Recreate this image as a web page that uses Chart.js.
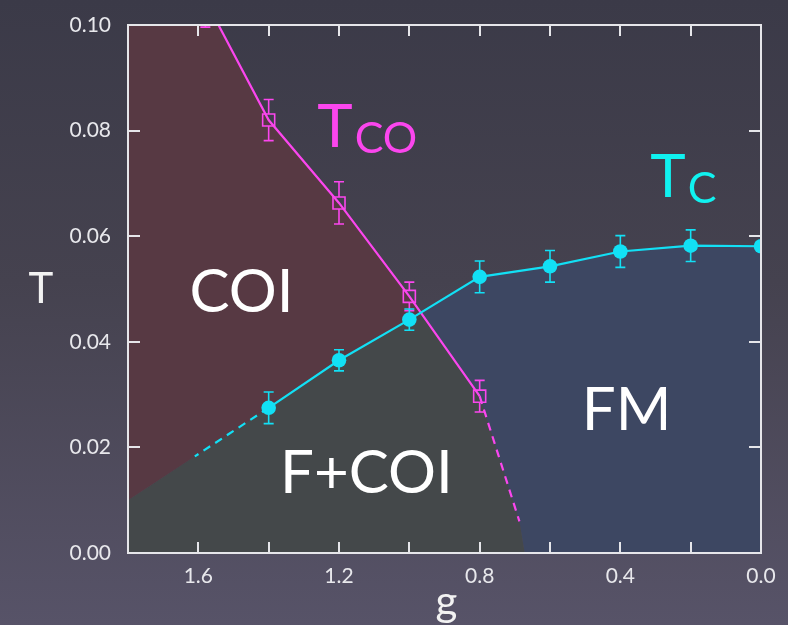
<!DOCTYPE html>
<html>
<head>
<meta charset="utf-8">
<script src="https://cdn.jsdelivr.net/npm/chart.js@4.4.1/dist/chart.umd.min.js"></script>
<style>
  html, body { margin: 0; padding: 0; }
  body {
    width: 788px; height: 625px; overflow: hidden;
    background: linear-gradient(to bottom, #3b3a48 0%, #45424f 45%, #575368 100%);
  }
  #c { display: block; }
</style>
</head>
<body>
<canvas id="c" width="788" height="625"></canvas>
<script>
// Curie temperature T_C versus g (filled circles)
const tcG      = [1.4, 1.2, 1.0, 0.8, 0.6, 0.4, 0.2, 0.0];
const tcT      = [0.0275, 0.0365, 0.0442, 0.0523, 0.0543, 0.0571, 0.0582, 0.0581];
const tcErr    = [0.0030, 0.0020, 0.0020, 0.0030, 0.0030, 0.0030, 0.0030, 0.0];

// Charge-ordering temperature T_CO versus g (open squares)
const tcoG     = [1.58, 1.4, 1.2, 1.0, 0.8];
const tcoT     = [0.1047, 0.0820, 0.0663, 0.0486, 0.0297];
const tcoErr   = [0.0051, 0.0039, 0.0040, 0.0027, 0.0030];

// Extrapolated (dashed) continuations of both boundaries
const tcExtG   = [1.4, 1.61];
const tcExtT   = [0.0275, 0.0183];
const tcoExtG  = [0.8, 0.687];
const tcoExtT  = [0.0297, 0.0060];

// Phase regions, as closed outlines in (g, T)
const coiRegion  = [[1.8, 0.1], [1.543, 0.1], [1.4, 0.082], [1.2, 0.0663], [1.0, 0.0486], [0.967, 0.0455],
                    [1.0, 0.0442], [1.2, 0.0365], [1.4, 0.0275], [1.8, 0.0100]];
const fcoiRegion = [[1.8, 0.0100], [1.4, 0.0275], [1.2, 0.0365], [1.0, 0.0442], [0.967, 0.0455],
                    [0.8, 0.0297], [0.687, 0.0060], [0.672, 0.0], [1.8, 0.0]];
const fmRegion   = [[0.967, 0.0455], [0.8, 0.0523], [0.6, 0.0543], [0.4, 0.0571], [0.2, 0.0582], [0.0, 0.0581],
                    [0.0, 0.0], [0.672, 0.0], [0.687, 0.0060], [0.8, 0.0297]];

// Axis ticks
const xTickValues = [1.6, 1.2, 0.8, 0.4, 0.0];
const xMinorTicks = [1.8, 1.6, 1.4, 1.2, 1.0, 0.8, 0.6, 0.4, 0.2, 0.0];
const yTickValues = [0.00, 0.02, 0.04, 0.06, 0.08, 0.10];

const MAGENTA = '#fb46ee';
const CYAN = '#12e0f5';
const FONT = 'Lato, "Open Sans", sans-serif';

const pts = (xs, ys) => xs.map((x, i) => ({ x, y: ys[i] }));
const poly = arr => arr.map(([x, y]) => ({ x, y }));

const regionSet = (data, color) => ({
  data: poly(data), showLine: true, fill: 'shape', backgroundColor: color,
  borderColor: 'rgba(0,0,0,0)', borderWidth: 0, pointRadius: 0, order: 10
});

// Vertical error bars with caps, leaving the inside of the marker clear
const errorBarPlugin = {
  id: 'errorBars',
  afterDatasetsDraw(chart) {
    const { ctx, chartArea: a } = chart;
    const xs = chart.scales.x, ys = chart.scales.y;
    ctx.save();
    ctx.beginPath();
    ctx.rect(a.left, a.top, a.right - a.left, a.bottom - a.top);
    ctx.clip();
    chart.data.datasets.forEach(ds => {
      if (!ds.errors) return;
      ctx.strokeStyle = ds.borderColor;
      ctx.lineWidth = 1.6;
      ds.data.forEach((p, i) => {
        const e = ds.errors[i];
        if (!e) return;
        const px = xs.getPixelForValue(p.x);
        const py = ys.getPixelForValue(p.y);
        const top = ys.getPixelForValue(p.y + e);
        const bot = ys.getPixelForValue(p.y - e);
        const gap = ds.errorGap || 0;
        const cap = 5;
        ctx.beginPath();
        ctx.moveTo(px, top); ctx.lineTo(px, Math.min(py - gap, bot));
        ctx.moveTo(px, Math.max(py + gap, top)); ctx.lineTo(px, bot);
        ctx.moveTo(px - cap, top); ctx.lineTo(px + cap, top);
        ctx.moveTo(px - cap, bot); ctx.lineTo(px + cap, bot);
        ctx.stroke();
      });
    });
    ctx.restore();
  }
};

// Frame with inward tick marks on all four sides
const framePlugin = {
  id: 'frame',
  afterDatasetsDraw(chart) {
    const { ctx, chartArea: a } = chart;
    const xs = chart.scales.x, ys = chart.scales.y;
    ctx.save();
    ctx.strokeStyle = '#e6e6ea';
    ctx.lineWidth = 2;
    ctx.strokeRect(a.left, a.top, a.right - a.left, a.bottom - a.top);
    ctx.beginPath();
    xs.ticks.forEach(t => {
      const px = Math.round(xs.getPixelForValue(t.value));
      ctx.moveTo(px, a.bottom); ctx.lineTo(px, a.bottom - 11);
      ctx.moveTo(px, a.top); ctx.lineTo(px, a.top + 11);
    });
    ys.ticks.forEach(t => {
      const py = Math.round(ys.getPixelForValue(t.value));
      ctx.moveTo(a.left, py); ctx.lineTo(a.left + 12, py);
      ctx.moveTo(a.right, py); ctx.lineTo(a.right - 12, py);
    });
    ctx.stroke();
    ctx.restore();
  }
};

// Region names, curve names and axis titles
const labelPlugin = {
  id: 'labels',
  afterDraw(chart) {
    const { ctx, chartArea: a } = chart;
    const xs = chart.scales.x, ys = chart.scales.y;
    const X = v => xs.getPixelForValue(v), Y = v => ys.getPixelForValue(v);
    ctx.save();
    ctx.textBaseline = 'alphabetic';
    ctx.fillStyle = '#ffffff';
    ctx.textAlign = 'center';
    ctx.font = `60px ${FONT}`;
    ctx.fillText('COI', X(1.477), Y(0.0457));
    ctx.fillText('F+COI', X(1.122), Y(0.0114));
    ctx.fillText('FM', X(0.382), Y(0.0233));

    ctx.textAlign = 'left';
    // T_CO
    ctx.fillStyle = MAGENTA;
    ctx.font = `60px ${FONT}`;
    let x0 = X(1.262), y0 = Y(0.0769);
    ctx.fillText('T', x0, y0);
    let w = ctx.measureText('T').width;
    ctx.font = `43px ${FONT}`;
    ctx.fillText('CO', x0 + w + 2, y0 + 6);
    // T_C
    ctx.fillStyle = '#10f2f0';
    ctx.font = `60px ${FONT}`;
    x0 = X(0.315); y0 = Y(0.0675);
    ctx.fillText('T', x0, y0);
    w = ctx.measureText('T').width;
    ctx.font = `43px ${FONT}`;
    ctx.fillText('C', x0 + w + 2, y0 + 6);

    // axis titles
    ctx.fillStyle = '#f2f2f2';
    ctx.textAlign = 'center';
    ctx.font = `42px ${FONT}`;
    ctx.fillText('T', a.left - 87, (a.top + a.bottom) / 2 + 14);
    ctx.fillText('g', (a.left + a.right) / 2 + 2, a.bottom + 63);
    ctx.restore();
  }
};

new Chart(document.getElementById('c'), {
  type: 'scatter',
  data: {
    datasets: [
      regionSet(coiRegion, '#573943'),
      regionSet(fcoiRegion, '#44484a'),
      regionSet(fmRegion, '#3d4762'),
      {
        data: pts(tcoExtG, tcoExtT), showLine: true, borderColor: MAGENTA, borderWidth: 2.2,
        borderDash: [8, 6], pointRadius: 0, order: 5
      },
      {
        data: pts(tcExtG, tcExtT), showLine: true, borderColor: CYAN, borderWidth: 2.2,
        borderDash: [8, 6], pointRadius: 0, order: 5
      },
      {
        data: pts(tcoG, tcoT), errors: tcoErr, errorGap: 6,
        showLine: true, borderColor: MAGENTA, borderWidth: 2.2,
        pointStyle: 'rect', pointRadius: 8.5, pointBorderWidth: 1.6,
        pointBorderColor: MAGENTA, pointBackgroundColor: 'rgba(0,0,0,0)', order: 2
      },
      {
        data: pts(tcG, tcT), errors: tcErr, errorGap: 0,
        showLine: true, borderColor: CYAN, borderWidth: 2.2,
        pointStyle: 'circle', pointRadius: 7.3, pointBorderWidth: 0,
        pointBackgroundColor: CYAN, order: 1
      }
    ]
  },
  options: {
    responsive: false,
    animation: false,
    devicePixelRatio: 1,
    events: [],
    layout: { padding: { top: 25, right: 27, left: 0, bottom: 0 } },
    plugins: { legend: { display: false }, tooltip: { enabled: false } },
    scales: {
      x: {
        type: 'linear', reverse: true, min: 0, max: 1.8,
        afterFit: s => { s.height = 72; s.paddingLeft = 0; s.paddingRight = 0; },
        afterBuildTicks: s => { s.ticks = xMinorTicks.map(v => ({ value: v })); },
        grid: { display: false, drawTicks: false },
        border: { display: false },
        ticks: {
          autoSkip: false, maxRotation: 0, padding: 11, color: '#e8e8ec',
          font: { family: FONT, size: 21 },
          callback: v => xTickValues.some(t => Math.abs(t - v) < 1e-6) ? Number(v).toFixed(1) : ''
        }
      },
      y: {
        type: 'linear', min: 0, max: 0.1,
        afterFit: s => { s.width = 128; s.paddingTop = 0; s.paddingBottom = 0; },
        afterBuildTicks: s => { s.ticks = yTickValues.map(v => ({ value: v })); },
        grid: { display: false, drawTicks: false },
        border: { display: false },
        ticks: {
          padding: 17, color: '#e8e8ec',
          font: { family: FONT, size: 21 },
          callback: v => Number(v).toFixed(2)
        }
      }
    }
  },
  plugins: [errorBarPlugin, framePlugin, labelPlugin]
});
</script>
</body>
</html>
